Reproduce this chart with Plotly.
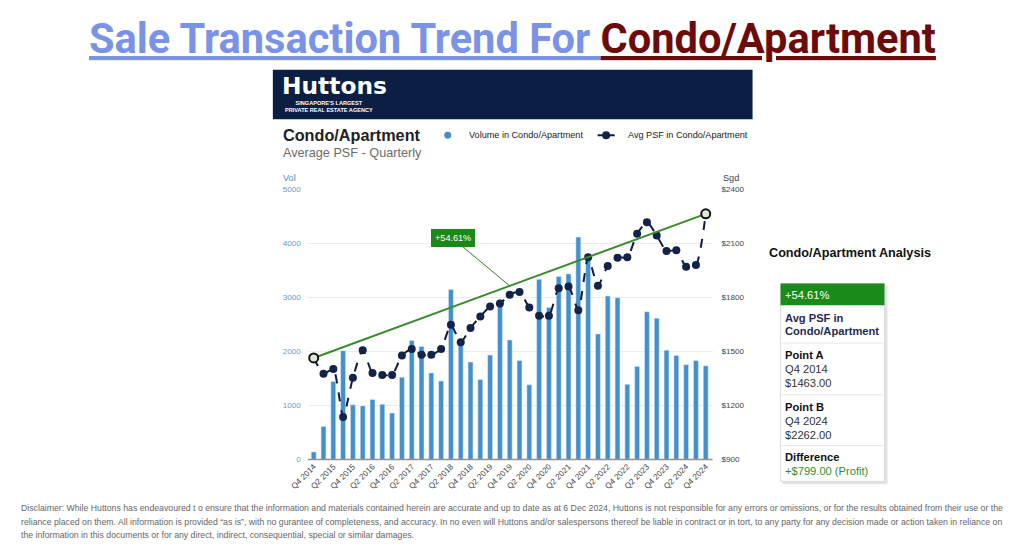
import plotly.graph_objects as go

W, H = 1024, 546

quarters = []
for y in range(2014, 2025):
    for q in range(1, 5):
        if (y == 2014 and q < 4):
            continue
        quarters.append(f"Q{q} {y}")
quarters = quarters[:41]

volume = [140, 610, 1440, 2010, 1010, 990, 1110, 1020, 860, 1520,
          2200, 2090, 1600, 1450, 3140, 2180, 1800, 1480, 1930, 2950,
          2210, 1830, 1380, 3330, 2810, 3380, 3430, 4110, 3700, 2320,
          3020, 2990, 1390, 1720, 2730, 2610, 2020, 1920, 1750, 1830,
          1730]

avg_psf = [1463, 1375, 1402, 1136, 1353, 1505, 1380, 1369, 1369, 1476,
           1513, 1480, 1480, 1513, 1647, 1550, 1629, 1693, 1748, 1765,
           1813, 1829, 1743, 1697, 1697, 1850, 1859, 1728, 2021, 1863,
           1973, 2019, 2021, 2152, 2216, 2142, 2056, 2060, 1969, 1979,
           2262]

tick_idx = list(range(0, 41, 2))
tick_labels = [quarters[i] for i in tick_idx]

vol_ticks = [0, 1000, 2000, 3000, 4000, 5000]
psf_ticks = [900, 1200, 1500, 1800, 2100, 2400]
psf_tick_labels = ["$900", "$1200", "$1500", "$1800", "$2100", "$2400"]

point_a = (0, 1463.0)
point_b = (40, 2262.0)
pct = (point_b[1] - point_a[1]) / point_a[1] * 100

# observed screenshot mapping compensation
OX, OY, SX, SY = 17.0, 3.0, 0.983, 0.989
FS = 1 / 0.986

def X(px):
    return (px - OX) / SX / W

def Y(py):
    return 1 - (py - OY) / SY / H

def F(s):
    return s * FS

x_idx = list(range(len(quarters)))

fig = go.Figure()
fig.add_trace(go.Bar(x=x_idx, y=volume, marker_color="#4390cf", width=0.5,
                     name="Volume in Condo/Apartment", yaxis="y"))
fig.add_trace(go.Scatter(x=x_idx, y=avg_psf, mode="lines+markers", yaxis="y2",
                         line=dict(color="#0f1d3d", dash="dash", width=2, shape="spline", smoothing=0.6),
                         marker=dict(color="#13234a", size=8),
                         name="Avg PSF in Condo/Apartment"))
fig.add_trace(go.Scatter(x=[point_a[0], point_b[0]], y=[point_a[1], point_b[1]],
                         mode="lines", yaxis="y2", line=dict(color="#3b8b2e", width=2)))
fig.add_trace(go.Scatter(x=[point_a[0], point_b[0]], y=[point_a[1], point_b[1]],
                         mode="markers", yaxis="y2",
                         marker=dict(color="#dfe8d6", size=9, line=dict(color="#111111", width=2))))

mid = 20
mid_val = point_a[1] + (point_b[1] - point_a[1]) * mid / 40

annotations = [
    dict(x=mid, y=mid_val, xref="x", yref="y2", text=f"+{pct:.2f}%",
         showarrow=True, arrowhead=0, arrowcolor="#3b7a30", arrowwidth=1,
         ax=-56 / SX, ay=-47 / SY, bgcolor="#178a17", bordercolor="#178a17", borderpad=3,
         font=dict(color="white", size=F(9), family="Liberation Sans")),
    # Page title
    dict(x=X(512), y=Y(38), xref="paper", yref="paper", showarrow=False,
         text="<b><span style='color:#7b93e6'><u>Sale Transaction Trend For </u></span>"
              "<span style='color:#6b0b0b'><u>Condo/Apartment</u></span></b>",
         font=dict(size=F(41), color="#7b93e6", family="Liberation Sans Narrow, Roboto, Arial"),
         xanchor="center", yanchor="middle"),
    # Header
    dict(x=X(279), y=Y(85), xref="paper", yref="paper", showarrow=False,
         text="<b>Huttons</b>", font=dict(size=F(23), color="white", family="DejaVu Sans"),
         xanchor="left", yanchor="middle"),
    dict(x=X(328), y=Y(106), xref="paper", yref="paper", showarrow=False, align="center",
         text="<b>SINGAPORE'S LARGEST<br>PRIVATE REAL ESTATE AGENCY</b>",
         font=dict(size=F(5.5), color="white", family="Liberation Sans"),
         xanchor="center", yanchor="middle"),
    # Chart titles
    dict(x=X(280), y=Y(135), xref="paper", yref="paper", showarrow=False,
         text="<b>Condo/Apartment</b>", font=dict(size=F(16), color="#222222", family="Liberation Sans"),
         xanchor="left", yanchor="middle"),
    dict(x=X(280), y=Y(153), xref="paper", yref="paper", showarrow=False,
         text="Average PSF - Quarterly", font=dict(size=F(12.5), color="#6b6b6b", family="Liberation Sans"),
         xanchor="left", yanchor="middle"),
    # Legend
    dict(x=X(466), y=Y(135), xref="paper", yref="paper", showarrow=False,
         text="Volume in Condo/Apartment", font=dict(size=F(9), color="#222222", family="Liberation Sans"),
         xanchor="left", yanchor="middle"),
    dict(x=X(625), y=Y(135), xref="paper", yref="paper", showarrow=False,
         text="Avg PSF in Condo/Apartment", font=dict(size=F(9), color="#222222", family="Liberation Sans"),
         xanchor="left", yanchor="middle"),
    # Axis titles
    dict(x=X(280), y=Y(178), xref="paper", yref="paper", showarrow=False,
         text="Vol", font=dict(size=F(9), color="#4a8fc8", family="Liberation Sans"),
         xanchor="left", yanchor="middle"),
    dict(x=X(720), y=Y(178), xref="paper", yref="paper", showarrow=False,
         text="Sgd", font=dict(size=F(9), color="#444444", family="Liberation Sans"),
         xanchor="left", yanchor="middle"),
    # Analysis panel
    dict(x=X(766), y=Y(253), xref="paper", yref="paper", showarrow=False,
         text="<b>Condo/Apartment Analysis</b>", font=dict(size=F(12.5), color="#111111", family="Liberation Sans"),
         xanchor="left", yanchor="middle"),
]

panel_rows = [
    (296, f"+{pct:.2f}%", "white", False),
    (319, "Avg PSF in", "#1f2d50", True),
    (332, "Condo/Apartment", "#1f2d50", True),
    (356, "Point A", "#111111", True),
    (370, quarters[point_a[0]], "#333333", False),
    (384, f"${point_a[1]:.2f}", "#333333", False),
    (408, "Point B", "#111111", True),
    (422, quarters[point_b[0]], "#333333", False),
    (436, f"${point_b[1]:.2f}", "#333333", False),
    (459, "Difference", "#111111", True),
    (473, f"+${point_b[1]-point_a[1]:.2f} (Profit)", "#2f8f2f", False),
]
for py, txt, col, bold in panel_rows:
    annotations.append(dict(x=X(782), y=Y(py), xref="paper", yref="paper", showarrow=False,
                            text=f"<b>{txt}</b>" if bold else txt,
                            font=dict(size=F(11), color=col, family="Liberation Sans"),
                            xanchor="left", yanchor="middle"))

disclaimer = [
    "Disclaimer: While Huttons has endeavoured t o ensure that the information and materials contained herein are accurate and up to date as at 6 Dec 2024, Huttons is not responsible for any errors or omissions, or for the results obtained from their use or the",
    "reliance placed on them. All information is provided \u201cas is\u201d, with no gurantee of completeness, and accuracy. In no even will Huttons and/or salespersons thereof be liable in contract or in tort, to any party for any decision made or action taken in reliance on",
    "the information in this documents or for any direct, indirect, consequential, special or similar damages.",
]
for i, line in enumerate(disclaimer):
    annotations.append(dict(x=X(18), y=Y(510 + 13.5 * i), xref="paper", yref="paper", showarrow=False,
                            text=line, font=dict(size=F(8.6), color="#666666", family="Liberation Sans Narrow, Liberation Sans"),
                            xanchor="left", yanchor="middle"))

shapes = [
    dict(type="rect", xref="paper", yref="paper", x0=X(272), x1=X(752), y0=Y(69), y1=Y(119),
         fillcolor="#0b1f45", line=dict(width=0), layer="below"),
    # legend symbols
    dict(type="circle", xref="paper", yref="paper", x0=X(443.5), x1=X(450.5), y0=Y(131.5), y1=Y(138.5),
         fillcolor="#4390cf", line=dict(width=0)),
    dict(type="line", xref="paper", yref="paper", x0=X(597), x1=X(614), y0=Y(135), y1=Y(135),
         line=dict(color="#0f1d3d", width=2)),
    dict(type="circle", xref="paper", yref="paper", x0=X(601.5), x1=X(609.5), y0=Y(131), y1=Y(139),
         fillcolor="#13234a", line=dict(width=0)),
    # baseline
    dict(type="line", xref="paper", yref="paper", x0=X(307), x1=X(712), y0=Y(461), y1=Y(461),
         line=dict(color="#9a8f86", width=1.5)),
    # analysis panel
    dict(type="rect", xref="paper", yref="paper", x0=X(782), x1=X(887), y0=Y(286), y1=Y(486),
         fillcolor="#e2e2e2", line=dict(width=0), layer="below"),
    dict(type="rect", xref="paper", yref="paper", x0=X(780), x1=X(884), y0=Y(284), y1=Y(483),
         fillcolor="white", line=dict(color="#dddddd", width=1), layer="below"),
    dict(type="rect", xref="paper", yref="paper", x0=X(780), x1=X(884), y0=Y(284), y1=Y(306),
         fillcolor="#1a8a1a", line=dict(width=0)),
]
for sy in (344, 396, 447):
    shapes.append(dict(type="line", xref="paper", yref="paper", x0=X(781), x1=X(883), y0=Y(sy), y1=Y(sy),
                       line=dict(color="#e6e6e6", width=1)))

x0_px, x1_px = 307.0, 712.0
fig.update_layout(
    width=W, height=H,
    margin=dict(l=0, r=0, t=0, b=0),
    paper_bgcolor="white", plot_bgcolor="white",
    showlegend=False,
    font=dict(family="Liberation Sans"),
    xaxis=dict(domain=[X(x0_px), X(x1_px)], range=[-0.6, 40.7],
               tickmode="array", tickvals=tick_idx, ticktext=tick_labels,
               tickangle=-45, tickfont=dict(size=F(8), color="#444444"),
               showgrid=False, zeroline=False, showline=False, ticks=""),
    yaxis=dict(domain=[Y(461), Y(189)], range=[0, 5000], tickvals=vol_ticks,
               tickfont=dict(size=F(8), color="#6a9cc9"), showgrid=True, gridcolor="#ececec",
               zeroline=False, ticks="", ticklabelstandoff=6),
    yaxis2=dict(domain=[Y(461), Y(189)], range=[900, 2400], overlaying="y", side="right",
                tickvals=psf_ticks, ticktext=psf_tick_labels,
                tickfont=dict(size=F(8), color="#444444"), showgrid=False, zeroline=False, ticks="",
                ticklabelstandoff=8),
    annotations=annotations,
    shapes=shapes,
    bargap=0.5,
)

fig.write_html("out.html", config={"displayModeBar": False},
               post_script="document.body.style.margin='0';document.body.style.padding='0';document.body.style.overflow='hidden';")
